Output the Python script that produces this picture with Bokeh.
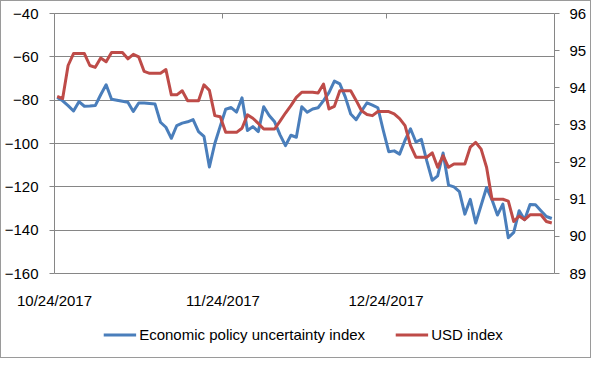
import numpy as np
import pandas as pd
from bokeh.plotting import figure
from bokeh.layouts import column
from bokeh.models import (Range1d, LinearAxis, FixedTicker, DatetimeTickFormatter,
                          Legend, LegendItem, DatetimeAxis, ColumnDataSource)
from bokeh.embed import file_html
from bokeh.resources import INLINE

# ---- data ----
start_date = "2017-10-24"
n_days = 92
tick_dates = ["2017-10-24", "2017-11-24", "2017-12-24"]
left_ticks = [-160, -140, -120, -100, -80, -60, -40]
right_ticks = [89, 90, 91, 92, 93, 94, 95, 96]
series_names = ["Economic policy uncertainty index", "USD index"]

policy_uncertainty = [
    -78.8, -80.3, -82.5, -85.0, -80.7, -82.8, -82.7, -82.5, -77.5, -72.9,
    -79.6, -80.0, -80.5, -81.0, -85.2, -81.3, -81.3, -81.5, -81.8, -90.2,
    -92.5, -97.6, -91.7, -90.6, -90.0, -89.0, -94.5, -96.7, -110.8, -100.0,
    -92.0, -84.2, -83.4, -85.5, -78.9, -94.0, -92.2, -94.5, -83.0, -87.1,
    -90.0, -96.0, -101.0, -96.2, -97.1, -83.0, -85.6, -84.1, -83.5, -80.2,
    -76.5, -71.2, -72.5, -78.5, -86.4, -89.0, -85.0, -81.2, -82.3, -83.5,
    -94.0, -103.8, -103.4, -104.9, -98.5, -93.2, -99.3, -98.1, -108.0, -117.0,
    -114.9, -104.4, -119.2, -120.0, -122.2, -132.6, -125.8, -136.7, -128.5, -120.3,
    -126.0, -133.0, -128.0, -143.5, -141.0, -131.0, -135.2, -128.2, -128.3, -131.0,
    -133.7, -134.6]

usd_index = [
    93.77, 93.71, 94.60, 94.92, 94.92, 94.92, 94.60, 94.55, 94.80, 94.70,
    94.95, 94.95, 94.95, 94.78, 94.90, 94.83, 94.44, 94.39, 94.39, 94.39,
    94.49, 93.81, 93.81, 93.92, 93.65, 93.65, 93.65, 94.08, 93.93, 93.25,
    93.22, 92.80, 92.80, 92.80, 92.91, 93.27, 93.18, 93.04, 92.89, 92.89,
    92.89, 93.10, 93.32, 93.52, 93.74, 93.88, 93.88, 93.88, 93.86, 94.10,
    93.43, 93.50, 93.92, 93.92, 93.92, 93.66, 93.38, 93.28, 93.25, 93.36,
    93.36, 93.36, 93.30, 93.17, 92.98, 92.45, 92.13, 92.13, 92.13, 92.25,
    91.86, 92.17, 91.86, 91.95, 91.95, 91.95, 92.40, 92.53, 92.35, 91.86,
    91.00, 91.00, 91.00, 90.95, 90.40, 90.55, 90.45, 90.58, 90.58, 90.58,
    90.40, 90.36]

dates = pd.date_range(start_date, periods=n_days, freq="D")
xpos = dates + pd.Timedelta(hours=12)   # points centred in each day slot

src = ColumnDataSource(dict(x=xpos, epu=policy_uncertainty, usd=usd_index))

FONT = "Liberation Sans"
FS = "15px"
GRID = "#868686"
BLUE = "#4A7EBB"
RED = "#BE4B48"

x_start = pd.Timestamp(start_date)
x_end = x_start + pd.Timedelta(days=n_days)
tick_ms = [pd.Timestamp(d).value // 10**6 for d in tick_dates]

p = figure(frame_width=500, frame_height=260, x_axis_type="datetime",
           x_range=Range1d(x_start, x_end), y_range=Range1d(-160, -40),
           output_backend="svg", toolbar_location=None,
           min_border_left=51, min_border_right=36, min_border_top=12,
           min_border_bottom=35)
p.outline_line_color = GRID
p.outline_line_width = 1
p.background_fill_color = "white"
p.border_fill_color = "white"

p.extra_y_ranges = {"usd": Range1d(89, 96)}

# x axis (labels only, at bottom)
xa = p.xaxis[0]
xa.ticker = FixedTicker(ticks=tick_ms)
fmt = "%m/%d/%Y"
xa.formatter = DatetimeTickFormatter(days=fmt, months=fmt, years=fmt, hours=fmt,
                                     minutes=fmt, seconds=fmt, milliseconds=fmt,
                                     microseconds=fmt, minsec=fmt, hourmin=fmt)
xa.axis_line_color = None
xa.major_tick_line_color = None
xa.minor_tick_line_color = None
xa.major_label_standoff = 12
xa.major_label_text_font = FONT
xa.major_label_text_font_size = FS
xa.major_label_text_color = "black"

# top tick marks (no labels)
ta = DatetimeAxis(ticker=FixedTicker(ticks=tick_ms))
ta.axis_line_color = None
ta.major_tick_in = 5
ta.major_tick_out = 0
ta.major_tick_line_color = GRID
ta.minor_tick_line_color = None
ta.major_label_overrides = {t: "" for t in tick_ms}
ta.major_label_standoff = 0
p.add_layout(ta, "above")

# left axis
ya = p.yaxis[0]
ya.ticker = FixedTicker(ticks=left_ticks)
ya.axis_line_color = None
ya.major_tick_out = 5
ya.major_tick_in = 0
ya.major_tick_line_color = GRID
ya.minor_tick_line_color = None
ya.major_label_standoff = 11
ya.major_label_text_font = FONT
ya.major_label_text_font_size = FS
ya.major_label_text_color = "black"

# right axis
ra = LinearAxis(y_range_name="usd", ticker=FixedTicker(ticks=right_ticks))
ra.axis_line_color = None
ra.major_tick_out = 5
ra.major_tick_in = 0
ra.major_tick_line_color = GRID
ra.minor_tick_line_color = None
ra.major_label_standoff = 10
ra.major_label_text_font = FONT
ra.major_label_text_font_size = FS
ra.major_label_text_color = "black"
p.add_layout(ra, "right")

p.xgrid.visible = False
p.ygrid.ticker = FixedTicker(ticks=left_ticks)
p.ygrid.grid_line_color = GRID
p.ygrid.grid_line_width = 1

p.line("x", "epu", source=src, line_color=BLUE, line_width=3, line_join="round")
p.line("x", "usd", source=src, line_color=RED, line_width=3, line_join="round",
       y_range_name="usd")

# legend strip underneath (same series, drawn outside this strip's view)
pl = figure(width=587, height=46, output_backend="svg", toolbar_location=None,
            x_range=Range1d(0, 1), y_range=Range1d(0, 1), min_border=0)
pl.axis.visible = False
pl.grid.visible = False
pl.outline_line_color = None
pl.background_fill_color = "white"
pl.border_fill_color = "white"
k1 = pl.line("x", "epu", source=src, line_color=BLUE, line_width=3)
k2 = pl.line("x", "usd", source=src, line_color=RED, line_width=3)
legend = Legend(items=[LegendItem(label=series_names[0], renderers=[k1]),
                       LegendItem(label=series_names[1], renderers=[k2])],
                orientation="horizontal", location="center",
                glyph_width=33, glyph_height=16, label_standoff=3, spacing=30,
                padding=0, margin=0, border_line_color=None,
                background_fill_alpha=0, label_text_font=FONT,
                label_text_font_size=FS, label_text_color="black")
pl.add_layout(legend)

layout = column(p, pl, spacing=0)
layout.styles = {"border": "1px solid #9a9a9a", "background-color": "white"}

open("out.html", "w").write(file_html(layout, INLINE))
